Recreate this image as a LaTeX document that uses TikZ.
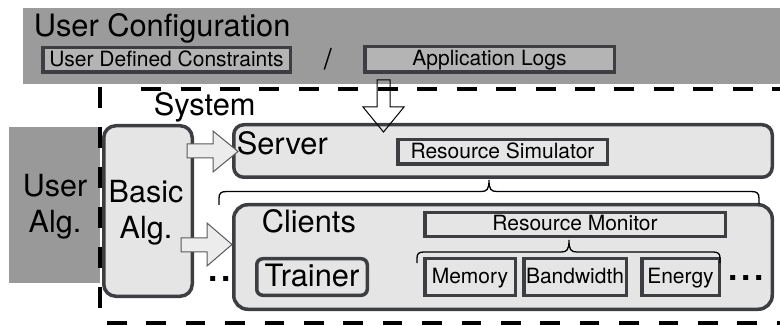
\documentclass[tikz,border=0pt]{standalone}
\usepackage{fontspec}
\setmainfont{TeX Gyre Heros}
\newcommand\myfs[1]{\fontsize{#1}{#1}\selectfont}
\definecolor{bandgray}{RGB}{155,155,155}
\definecolor{algray}{RGB}{153,153,153}
\definecolor{topfill}{RGB}{180,180,180}
\definecolor{boxfill}{RGB}{229,229,229}
\definecolor{bordercol}{RGB}{60,62,66}
\definecolor{arrfill}{RGB}{236,236,236}
\definecolor{arrline}{RGB}{90,90,90}
\begin{document}
\begin{tikzpicture}[x=1pt,y=-1pt,
  dk/.style={draw=bordercol, line width=3.5pt, fill=boxfill, inner sep=0pt},
  topbx/.style={draw=bordercol, line width=3.5pt, fill=topfill, inner sep=0pt},
  smalltxt/.style={font=\myfs{21}, text height=16.8pt, text depth=4.2pt},
  bigtxt/.style={font=\myfs{30.8}, inner sep=0pt, anchor=base west},
  twoline/.style={font=\fontsize{30.5}{36}\selectfont, align=center, inner sep=0pt},
  dotstxt/.style={font=\myfs{48}, inner sep=0pt, anchor=base west},
  blockarr/.style={draw=arrline, line width=1pt, fill=arrfill, line join=miter},
  sysdash/.style={line width=4.5pt, black},
  bracestyle/.style={line width=1.3pt, black}
]
\useasboundingbox (0,0) rectangle (780,326);
\clip (0,0) rectangle (780,326);

% user configuration band
\fill[bandgray] (23,8) rectangle (800,84);
\node[bigtxt] (conftitle) at (33.6,36.7) {User Configuration};
\node[topbx, smalltxt, minimum width=247.5pt, minimum height=24.5pt] (udc) at (166.5,60) {User Defined Constraints};
\node[font=\myfs{29}, inner sep=0pt, anchor=base] (slash) at (328,69.5) {/};
\node[topbx, smalltxt, minimum width=249.5pt, minimum height=25.5pt] (applogs) at (489.5,59.5) {Application Logs};

% user algorithm
\node[fill=algray, inner sep=0pt, minimum width=91pt, minimum height=156pt] (useralg) at (54.5,205) {};
\node[twoline] (useralgtxt) at (55,207.2) {User\\Alg.};

% basic algorithm
\node[dk, rounded corners=12pt, minimum width=88.5pt, minimum height=170.5pt] (basic) at (148,211) {};
\node[twoline] (basictxt) at (146,212.9) {Basic\\Alg.};

% dots behind clients
\node[dotstxt] (dotsleft) at (205.8,281) {...};

% server and clients
\node[dk, rounded corners=10pt, minimum width=538.5pt, minimum height=52.5pt] (server) at (503,151) {};
\node[dk, rounded corners=14pt, minimum width=538.5pt, minimum height=104.5pt] (clients) at (503,257) {};

\node[dk, smalltxt, minimum width=209.5pt, minimum height=24.5pt] (ressim) at (502.5,152) {Resource Simulator};
\node[dk, smalltxt, minimum width=300.5pt, minimum height=24pt] (resmon) at (575,224.5) {Resource Monitor};
\node[dk, rounded corners=6pt, font=\myfs{30.8}, text height=24.8pt, text depth=5.4pt, minimum width=110.5pt, minimum height=36.5pt] (trainer) at (312,277) {Trainer};
\node[dk, smalltxt, minimum width=90.5pt, minimum height=36.5pt] (memory) at (470,277) {Memory};
\node[dk, smalltxt, minimum width=102.5pt, minimum height=36.5pt] (bandwidth) at (575,277) {Bandwidth};
\node[dk, smalltxt, minimum width=77.5pt, minimum height=36.5pt] (energy) at (680.5,277) {Energy};
\node[dotstxt] (dotsright) at (725.8,280.7) {...};

% labels
\node[bigtxt] (systemlbl) at (153.6,115.7) {System};
\node[bigtxt] (serverlbl) at (236.6,154.3) {Server};
\node[bigtxt] (clientslbl) at (261.6,233) {Clients};

% braces
\draw[bracestyle] (219,205) -- (219,198.5) .. controls (219,193) and (221,191.5) .. (227,191.5)
  -- (481,191.5) .. controls (487,191.5) and (489,189.5) .. (489,180)
  .. controls (489,189.5) and (491,191.5) .. (497,191.5)
  -- (751,191.5) .. controls (757,191.5) and (759,193) .. (759,198.5) -- (759,204);
\draw[bracestyle] (417,263) -- (417,258) .. controls (417,253.5) and (419,252) .. (424,252)
  -- (561,252) .. controls (567,252) and (569,250) .. (569,240)
  .. controls (569,250) and (571,252) .. (577,252)
  -- (713,252) .. controls (718,252) and (720,253.5) .. (720,258) -- (720,263);

% block arrows from basic alg.
\draw[blockarr] (187,144) -- (213,144) -- (213,131) -- (238,151.5) -- (213,172) -- (213,158) -- (187,158) -- cycle;
\draw[blockarr] (181,238) -- (207,238) -- (207,223) -- (232,244.5) -- (207,266) -- (207,252) -- (181,252) -- cycle;

% system dashed frame
\draw[sysdash, dash pattern=on 20pt off 19.45pt, dash phase=20pt] (121.6,89) -- (800,89);
\draw[sysdash, dash pattern=on 21pt off 19pt] (100,86.75) -- (100,330);
\draw[sysdash, dash pattern=on 19.5pt off 19.9pt] (107,323) -- (800,323);

% arrow from application logs
\draw[black, line width=1pt, line join=miter] (377,80) -- (390,80) -- (390,107) -- (404,107) -- (383.5,132) -- (363,107) -- (377,107) -- cycle;
\end{tikzpicture}
\end{document}
